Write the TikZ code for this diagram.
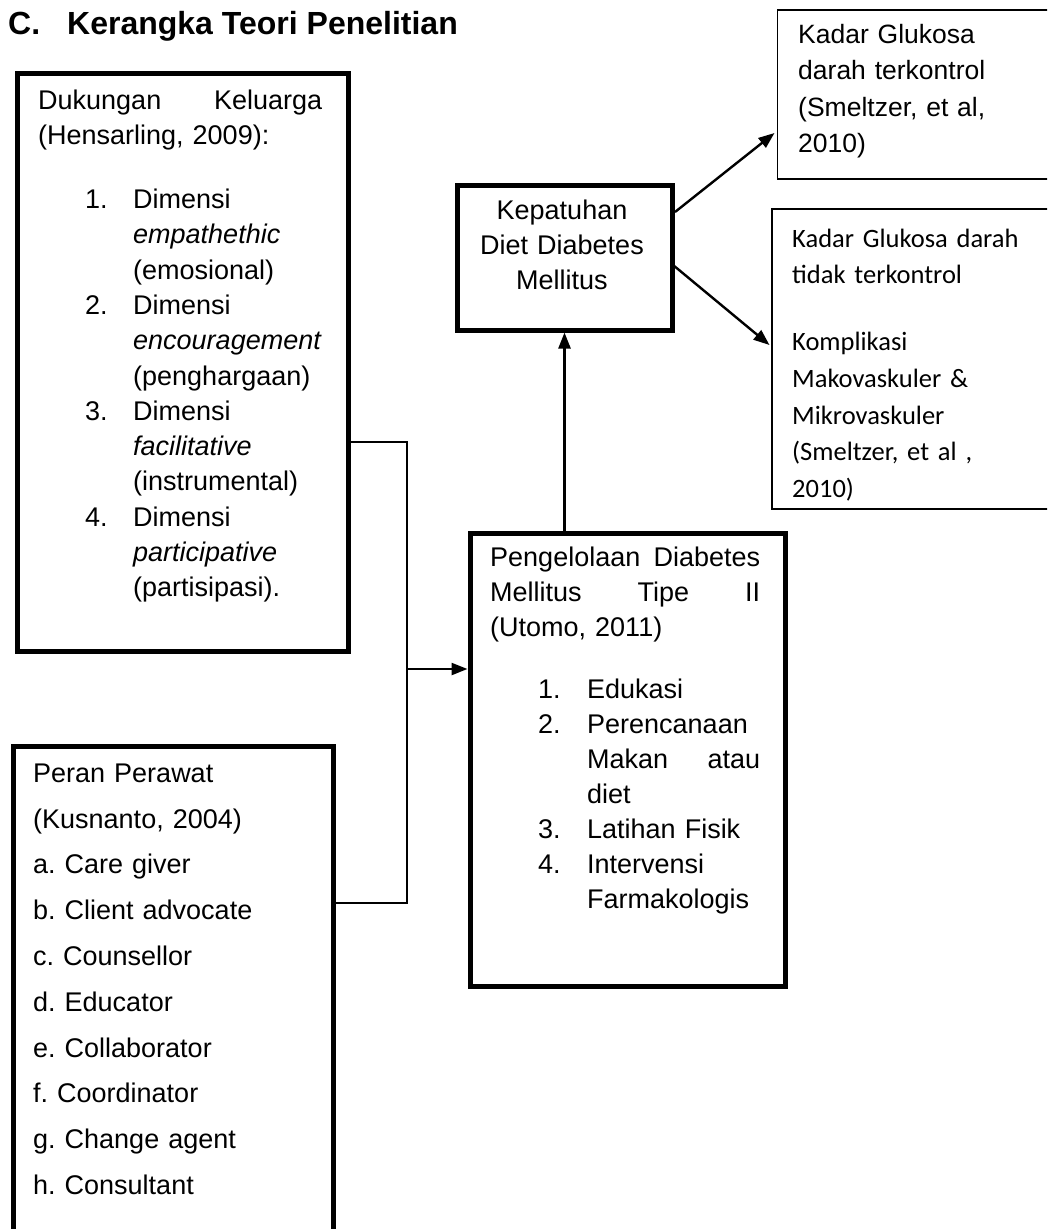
\documentclass[tikz,border=0pt]{standalone}
\usepackage{fontspec}
\setmainfont{Liberation Sans}
\newfontfamily\calibfont{Carlito}
\usetikzlibrary{arrows.meta}
\begin{document}
\frenchspacing
\begin{tikzpicture}[x=1pt,y=-1pt,
  thickbox/.style={draw,line width=5pt,inner sep=0pt,anchor=north west},
  thinbox/.style={draw,line width=1.8pt,inner sep=0pt,anchor=north west},
  txt/.style={inner sep=0pt,anchor=north west,align=left},
  link/.style={line width=2pt},
  arr/.style={line width=2.4pt,-{Triangle[length=16pt,width=12pt]}}]
\useasboundingbox (0,0) rectangle (1047,1229);
\clip (0,0) rectangle (1047,1229);

% title
\node[inner sep=0pt,anchor=base west,font=\fontsize{32}{38}\selectfont\bfseries] (title) at (8,34)
  {\makebox[59pt][l]{C.}Kerangka Teori Penelitian};

% boxes
\node[thickbox,minimum width=331pt,minimum height=578.5pt] (b1) at (14.5,70.5) {};
\node[thickbox,minimum width=320pt,minimum height=540pt] (b2) at (10.5,743.5) {};
\node[thickbox,minimum width=315pt,minimum height=453pt] (b3) at (467.5,530.5) {};
\node[thickbox,minimum width=215pt,minimum height=145pt] (kep) at (454.5,182.5) {};
\node[thinbox,minimum width=300pt,minimum height=169pt] (ba) at (776.5,9) {};
\node[thinbox,minimum width=300pt,minimum height=300pt] (bb) at (771,208) {};

% texts
\node[txt,text width=284pt,font=\fontsize{27}{35.3}\selectfont] (t1) at (38,84.3) {%
\strut Dukungan\hfill Keluarga\\
(Hensarling, 2009):\\[28.7pt]
\hspace*{47pt}\makebox[48pt][l]{1.}Dimensi\\
\hspace*{95pt}\textit{empathethic}\\
\hspace*{95pt}(emosional)\\
\hspace*{47pt}\makebox[48pt][l]{2.}Dimensi\\
\hspace*{95pt}\textit{encouragement}\\
\hspace*{95pt}(penghargaan)\\
\hspace*{47pt}\makebox[48pt][l]{3.}Dimensi\\
\hspace*{95pt}\textit{facilitative}\\
\hspace*{95pt}(instrumental)\\
\hspace*{47pt}\makebox[48pt][l]{4.}Dimensi\\
\hspace*{95pt}\textit{participative}\\
\hspace*{95pt}(partisipasi).};

\node[txt,text width=290pt,font=\fontsize{27}{45.8}\selectfont] (t2) at (33,750) {%
\strut Peran Perawat\\
(Kusnanto, 2004)\\
a. Care giver\\
b. Client advocate\\
c. Counsellor\\
d. Educator\\
e. Collaborator\\
f. Coordinator\\
g. Change agent\\
h. Consultant};

\node[txt,text width=270pt,font=\fontsize{27}{35}\selectfont] (t3) at (490,541.5) {%
\strut Pengelolaan\hfill Diabetes\\
Mellitus\hfill Tipe\hfill II\\
(Utomo, 2011)\\[27pt]
\hspace*{48pt}\makebox[49pt][l]{1.}Edukasi\\
\hspace*{48pt}\makebox[49pt][l]{2.}Perencanaan\\
\hspace*{97pt}Makan\hfill atau\\
\hspace*{97pt}diet\\
\hspace*{48pt}\makebox[49pt][l]{3.}Latihan Fisik\\
\hspace*{48pt}\makebox[49pt][l]{4.}Intervensi\\
\hspace*{97pt}Farmakologis};

\node[inner sep=0pt,anchor=north,text width=205pt,align=center,font=\fontsize{27}{35}\selectfont] (tk) at (562,194.5) {%
\strut Kepatuhan\\ Diet Diabetes\\ Mellitus};

\node[txt,text width=240pt,font=\fontsize{26.5}{36.5}\selectfont] (ta) at (798,17.5) {%
\strut Kadar Glukosa\\
darah terkontrol\\
(Smeltzer, et al,\\
2010)};

\node[txt,text width=240pt,font=\calibfont\fontsize{26.5}{36.6}\selectfont] (tb) at (792,221.4) {%
\strut Kadar Glukosa darah\\
tidak terkontrol\\[30.4pt]
Komplikasi\\
Makovaskuler \&\\
Mikrovaskuler\\
(Smeltzer, et al ,\\
2010)};

% connectors
\coordinate (j1) at (407,442);
\coordinate (j2) at (407,903);
\coordinate (j3) at (407,669);
\coordinate (kA) at (675,212);
\coordinate (pA) at (774.5,133);
\coordinate (kB) at (673,265);
\coordinate (pB) at (769.5,345);
\draw[link] (b1.east |- j1) -- (j1) -- (j2) -- (b2.east |- j2);
\draw[arr] (j3) -- (b3.west |- j3);
\draw[arr] (b3.north -| kep.south) -- (kep.south);
\draw[arr] (kA) -- (pA);
\draw[arr] (kB) -- (pB);
\end{tikzpicture}
\end{document}
